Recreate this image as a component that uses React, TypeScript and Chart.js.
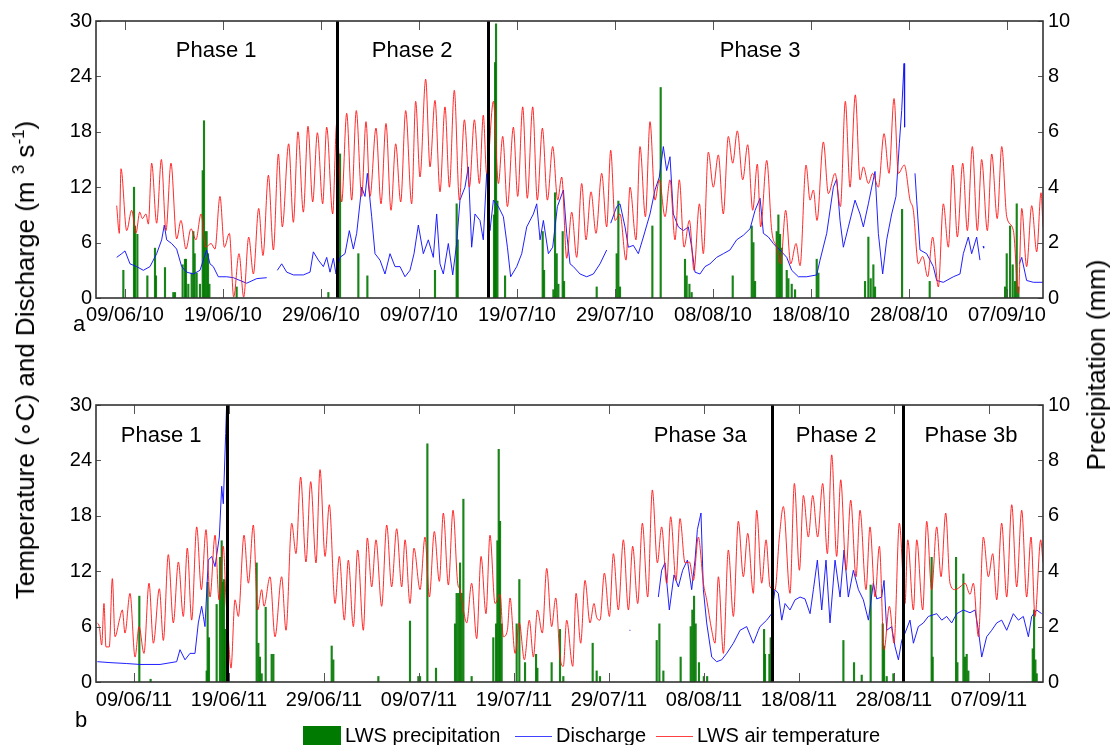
import React, { useEffect, useRef } from "react";
import { Chart, registerables } from "chart.js";

Chart.register(...registerables);

const FONT = '"Liberation Sans", Arial, Helvetica, sans-serif';

// x values are days after 09/06 of each year
const tickDays = [0, 10, 20, 30, 40, 50, 60, 70, 80, 90];
const tickLabels2010 = ["09/06/10", "19/06/10", "29/06/10", "09/07/10", "19/07/10", "29/07/10", "08/08/10", "18/08/10", "28/08/10", "07/09/10"];
const tickLabels2011 = ["09/06/11", "19/06/11", "29/06/11", "09/07/11", "19/07/11", "29/07/11", "08/08/11", "18/08/11", "28/08/11", "07/09/11"];
const tempTicks = [0, 6, 12, 18, 24, 30];
const precipTicks = [0, 2, 4, 6, 8, 10];

const xRange2010 = [-2.96, 93.67];
const xRange2011 = [-4.0, 95.68];

const airTemp2010: [number, number | null][] = [
  [-0.85, 10.0], [-0.58, 7.0], [-0.41, 14.0], [0.17, 7.3], [0.68, 9.5], [1.12, 7.0], [1.5, 9.3], [1.77, 8.6], [2.14, 9.1], [2.38, 8.0],
  [2.72, 14.6], [3.23, 8.1], [3.71, 15.0], [4.18, 7.3], [4.69, 14.6], [5.27, 6.4], [5.71, 8.4], [6.22, 5.3], [6.73, 7.5], [7.24, 6.3],
  [7.76, 9.1], [8.23, 5.5], [8.78, 5.9], [9.18, 5.3], [9.69, 11.0], [10.14, 5.5], [10.65, 7.0], [11.09, 0.1], [11.63, 4.8], [12.11, 0.1],
  [12.62, 6.6], [13.1, 2.6], [13.64, 9.7], [14.08, 4.6], [14.63, 13.3], [15.14, 5.2], [15.65, 15.6], [16.05, 7.7], [16.7, 16.7], [17.18, 8.2],
  [17.65, 18.0], [18.2, 9.3], [18.67, 18.6], [19.15, 10.4], [19.63, 17.9], [20.17, 10.2], [20.58, 18.5], [21.19, 9.1], [21.6, 18.9], [22.11, 10.4],
  [22.62, 20.0], [23.13, 10.6], [23.6, 20.3], [24.15, 11.0], [24.59, 19.1], [25.0, 11.0], [25.61, 18.4], [26.12, 10.2], [26.63, 18.9], [27.14, 9.5],
  [27.62, 16.7], [28.13, 10.4], [28.64, 20.3], [29.25, 10.2], [29.66, 21.3], [30.1, 13.1], [30.68, 23.7], [31.12, 14.2], [31.63, 21.4], [32.14, 11.5],
  [32.65, 20.7], [33.1, 12.0], [33.6, 22.5], [34.12, 10.6], [34.63, 19.3], [35.14, 12.0], [35.65, 19.3], [36.16, 12.4], [36.56, 19.8], [36.9, 13.5],
  [37.59, 21.3], [38.1, 12.4], [38.54, 17.5], [39.02, 9.9], [39.63, 18.5], [40.07, 11.0], [40.58, 20.7], [41.05, 10.8], [41.6, 20.7], [42.07, 10.6],
  [42.59, 18.4], [43.1, 10.6], [43.64, 16.4], [44.15, 10.6], [44.56, 13.1], [45.07, 4.3], [45.58, 9.3], [46.09, 4.4], [46.6, 12.4], [47.04, 6.3],
  [47.55, 11.5], [48.06, 7.0], [48.64, 13.5], [49.15, 7.7], [49.56, 16.0], [50.0, 8.4], [50.51, 9.1], [51.12, 4.1], [51.53, 12.0], [52.14, 6.3],
  [52.55, 16.4], [53.1, 8.8], [53.57, 19.1], [54.08, 10.6], [54.52, 12.8], [55.1, 8.8], [55.61, 12.8], [56.12, 6.3], [56.56, 12.8], [57.04, 5.5],
  [57.59, 8.4], [58.06, 3.0], [58.61, 10.2], [59.01, 4.8], [59.52, 15.8], [60.03, 12.0], [60.54, 15.5], [61.05, 9.1], [61.56, 17.5], [62.01, 14.6],
  [62.48, 18.1], [63.03, 12.8], [63.54, 16.6], [64.05, 9.5], [64.52, 14.5], [64.86, 7.7], [65.48, 14.9], [65.99, 7.3], [66.5, 5.5], [66.9, 3.7],
  [67.41, 9.5], [67.93, 3.7], [68.47, 5.9], [68.88, 3.5], [69.49, 14.4], [69.9, 10.6], [70.24, 11.7], [70.61, 8.4], [71.26, 16.9], [71.77, 11.3],
  [72.45, 13.5], [73.0, 9.9], [73.5, 21.3], [73.98, 12.0], [74.52, 22.0], [75.0, 12.8], [75.34, 14.2], [75.85, 12.4], [76.29, 13.5], [76.87, 12.0],
  [77.45, 17.8], [77.96, 13.5], [78.47, 21.6], [78.91, 13.5], [79.52, 14.4], [80.1, 10.6], [80.44, 9.5], [80.95, 3.7], [81.4, 4.5], [81.9, 2.3],
  [82.41, 6.6], [82.99, 1.2], [83.5, 10.2], [84.01, 5.5], [84.46, 14.4], [84.93, 6.6], [85.48, 14.6], [85.95, 7.3], [86.46, 16.4], [86.97, 7.3],
  [87.41, 15.0], [87.99, 7.3], [88.44, 15.6], [89.0, 8.6], [89.46, 16.4], [89.97, 8.8], [90.65, 7.3], [91.16, 0.5], [91.5, 9.7], [92.0, 3.4],
  [92.52, 10.0], [93.03, 5.0], [93.47, 11.4], [93.67, 7.7],
];

const discharge2010: [number, number | null][] = [
  [-0.85, 4.4], [-0.34, 4.8], [0, 5.1], [0.51, 3.7], [1.19, 3.4], [1.87, 3.0], [2.55, 3.4], [3.23, 4.8], [3.74, 6.3], [4.01, 7.9],
  [4.25, 6.3], [4.76, 5.9], [5.27, 5.3], [5.78, 3.4], [6.29, 2.8], [6.97, 2.6], [7.65, 3.0], [8.33, 5.2], [8.67, 3.7], [9.01, 3.4],
  [9.52, 2.3], [10.37, 2.3], [11.05, 2.2], [11.73, 1.9], [12.41, 1.6], [13.44, 2.1], [14.46, 2.2], [15.0, null],
  [15.54, 3.0], [15.99, 3.7], [16.5, 2.8], [17.18, 2.5], [18.2, 2.5], [18.88, 2.8], [19.22, 5.0], [19.73, 4.1], [20.24, 3.4], [20.58, 4.4],
  [20.92, 2.8], [21.26, 4.3], [21.53, 2.6], [21.94, 4.4], [22.45, 4.8], [22.89, 7.3], [23.3, 5.3], [23.64, 7.0], [24.15, 12.0], [24.49, 11.0],
  [24.73, 13.5], [25.17, 8.8], [25.51, 4.8], [26.02, 4.1], [26.53, 2.6], [27.04, 4.8], [27.55, 3.4], [28.06, 3.4], [28.57, 2.3], [29.08, 3.0],
  [29.49, 4.8], [29.93, 7.9], [30.44, 4.8], [30.95, 6.3], [31.46, 4.4], [31.8, 9.1], [32.14, 3.7], [32.48, 2.6], [32.99, 5.9], [33.44, 2.5],
  [33.84, 5.9], [34.18, 10.6], [34.69, 12.0], [35.03, 14.2], [35.37, 5.5], [35.71, 9.1], [36.22, 8.4], [36.56, 6.3], [36.9, 13.5], [37.24, 7.3],
  [37.59, 10.6], [38.1, 9.9], [38.61, 8.8], [39.02, 5.5], [39.35, 2.3], [39.97, 3.4], [40.48, 4.8], [40.99, 7.7], [41.67, 9.1], [42.01, 10.2],
  [42.35, 6.3], [42.69, 8.4], [43.2, 4.8], [43.64, 5.5], [44.12, 9.9], [44.73, 11.7], [45.07, 7.0], [45.41, 3.7], [45.75, 3.4], [46.43, 2.6],
  [47.11, 2.3], [47.79, 2.6], [48.47, 3.7], [49.15, 5.2], [49.35, null],
  [49.56, 8.1], [50.17, 9.9], [50.51, 10.2], [51.02, 7.7], [51.36, 5.5], [51.87, 5.7], [52.38, 4.8], [52.89, 6.6], [53.57, 9.1], [54.08, 11.7],
  [54.52, 13.1], [54.93, 16.4], [55.27, 13.8], [55.61, 15.3], [55.95, 9.1], [56.46, 7.7], [56.97, 7.3], [57.48, 7.7], [57.82, 5.5], [58.16, 2.8],
  [58.67, 2.6], [59.18, 3.4], [59.69, 3.7], [60.37, 4.4], [61.05, 4.8], [61.73, 5.2], [62.41, 6.3], [63.1, 6.8], [63.78, 7.5], [64.29, 9.5],
  [64.8, 10.8], [65.14, 7.0], [65.65, 6.6], [66.16, 5.9], [66.5, 5.5], [66.84, 5.2], [67.52, 4.4], [68.03, 3.0], [68.71, 2.3], [69.56, 2.3],
  [70.58, 2.5], [70.92, 4.1], [71.6, 7.0], [72.28, 12.0], [72.62, 12.9], [72.96, 8.4], [73.3, 5.5], [73.81, 7.7], [74.49, 10.6], [75.0, 9.1],
  [75.34, 7.7], [75.85, 10.2], [76.19, 12.0], [76.53, 13.7], [76.87, 7.0], [77.31, 2.6], [77.72, 6.3], [78.23, 9.1], [78.67, 11.0], [79.01, 16.7],
  [79.25, 20.3], [79.49, 25.4], [79.55, 18.5], [80.0, null],
  [80.61, 13.5], [80.78, 10.6], [81.12, 5.2], [81.8, 4.8], [82.48, 3.4], [82.82, 1.9], [83.5, 1.7], [84.52, 2.3], [85.2, 2.6], [85.54, 4.8],
  [86.05, 6.6], [86.39, 4.8], [86.9, 6.6], [87.24, 4.1], [87.4, null], [87.55, 5.6], [87.62, 5.4], [87.8, null],
  [91.25, 3.7], [91.5, 4.4], [92.0, 1.9], [92.69, 1.7], [93.67, 1.7],
];

const precip2010: [number, number][] = [
  [-0.17, 1.0], [0.92, 4.0], [1.02, 2.6], [1.26, 2.3], [2.28, 0.8], [3.06, 1.8], [3.16, 0.8], [4.08, 1.1], [4.93, 0.2], [5.1, 0.2],
  [5.88, 1.2], [6.12, 1.4], [6.22, 1.4], [6.46, 0.5], [6.8, 0.9], [6.97, 2.4], [7.11, 1.6], [7.31, 0.9], [7.65, 0.5], [7.93, 4.6],
  [8.06, 6.4], [8.2, 2.4], [8.33, 2.4], [8.47, 1.6], [8.61, 0.5], [11.39, 0.4], [20.75, 0.2], [21.94, 5.2], [23.81, 1.6], [24.73, 0.8],
  [31.63, 1.0], [33.84, 3.4], [33.95, 2.1], [37.65, 3.0], [37.76, 8.5], [37.86, 9.9], [38.0, 3.5], [38.78, 0.8], [42.62, 2.4], [42.76, 1.0],
  [43.71, 0.3], [43.88, 3.8], [44.05, 1.6], [44.22, 0.5], [44.66, 2.4], [44.8, 0.6], [48.13, 0.4], [50.17, 1.6], [50.34, 3.5], [50.51, 0.4],
  [53.81, 2.6], [54.66, 7.6], [57.14, 1.4], [57.31, 0.8], [57.59, 0.5], [57.82, 0.2], [62.01, 0.8], [63.95, 2.6], [64.12, 2.0], [64.29, 0.6],
  [66.5, 2.4], [66.67, 3.0], [66.84, 2.3], [67.01, 1.8], [67.52, 1.0], [67.69, 0.7], [68.03, 0.5], [68.37, 0.3], [70.58, 1.4], [70.75, 0.9],
  [75.51, 0.6], [75.85, 2.2], [76.09, 0.7], [76.36, 1.2], [76.53, 0.4], [79.29, 3.2], [82.11, 0.6], [89.8, 0.4], [89.97, 1.6], [90.31, 2.6],
  [90.58, 1.2], [90.82, 0.6], [90.99, 3.4], [91.16, 0.4],
];

const airTemp2011: [number, number | null][] = [
  [-3.86, 6.4], [-3.65, 6.0], [-3.4, 4.0], [-3.16, 8.5], [-2.95, 3.8], [-2.6, 3.8], [-2.28, 11.2], [-2.0, 4.9], [-1.54, 6.7], [-1.23, 7.8],
  [-0.95, 5.3], [-0.42, 9.6], [0.11, 2.7], [0.53, 6.0], [1.05, 3.1], [1.58, 10.7], [2.04, 4.2], [2.67, 10.1], [3.09, 4.5], [3.61, 13.8],
  [4.14, 6.4], [4.67, 13.0], [5.19, 7.1], [5.61, 14.5], [6.07, 6.7], [6.6, 16.8], [7.09, 10.0], [7.58, 16.5], [8.0, 9.2], [8.53, 15.9],
  [8.95, 8.9], [9.4, 14.7], [9.68, 9.0], [9.93, 4.9], [10.21, 1.5], [10.63, 8.9], [10.98, 7.1], [11.58, 15.9], [12.04, 10.7], [12.56, 17.0],
  [13.02, 7.8], [13.44, 10.0], [13.68, 8.2], [14.32, 11.4], [14.84, 4.9], [15.54, 11.4], [16.0, 5.6], [16.6, 17.2], [17.05, 13.9], [17.54, 22.2],
  [18.1, 13.0], [18.6, 21.7], [19.16, 12.9], [19.58, 23.0], [20.11, 13.6], [20.56, 19.2], [21.16, 8.5], [21.61, 13.6], [22.14, 6.7], [22.56, 13.2],
  [23.09, 6.0], [23.54, 14.3], [24.14, 5.6], [24.56, 15.6], [25.02, 10.3], [25.47, 15.4], [26.07, 8.2], [26.6, 17.0], [27.12, 10.3], [27.65, 16.6],
  [28.18, 10.3], [28.53, 15.4], [29.05, 8.5], [29.47, 14.5], [30.11, 10.0], [30.63, 15.7], [31.09, 9.2], [31.61, 16.3], [32.14, 10.9], [32.56, 18.3],
  [33.09, 10.5], [33.58, 18.6], [34.07, 10.7], [34.32, 10.0], [34.67, 7.8], [35.02, 6.4], [35.54, 10.7], [36.07, 4.7], [36.53, 13.6], [37.05, 7.4],
  [37.47, 15.9], [38.0, 8.5], [38.53, 9.5], [38.88, 4.9], [39.3, 5.6], [39.58, 9.1], [40.11, 3.1], [40.56, 6.4], [41.09, 2.4], [41.61, 6.7],
  [42.04, 2.7], [42.46, 7.8], [42.98, 5.3], [43.44, 12.3], [43.96, 6.0], [44.39, 9.1], [44.84, 2.7], [45.19, 1.7], [45.54, 6.7], [46.18, 1.7],
  [46.53, 9.6], [47.02, 4.2], [47.47, 11.0], [48.0, 6.4], [48.42, 8.5], [48.7, 7.0], [49.05, 6.7], [49.51, 11.8], [50.04, 7.1], [50.46, 13.9],
  [50.98, 7.8], [51.51, 15.4], [52.04, 7.8], [52.49, 14.7], [53.02, 8.5], [53.51, 17.2], [54.07, 9.2], [54.56, 20.8], [55.09, 12.9], [55.54, 16.8],
  [56.07, 10.7], [56.49, 17.9], [57.05, 11.0], [57.47, 17.7], [58.0, 12.9], [58.46, 13.0], [58.88, 11.0], [59.4, 15.7], [59.93, 10.7], [60.28, 8.9],
  [60.81, 5.6], [61.16, 4.2], [61.51, 11.4], [62.04, 3.1], [62.56, 14.3], [63.09, 7.1], [63.61, 17.4], [64.14, 11.4], [64.6, 16.1], [65.19, 9.6],
  [65.54, 18.6], [66.07, 10.7], [66.53, 15.4], [66.95, 10.3], [67.47, 10.0], [67.93, 15.7], [68.35, 19.0], [69.05, 9.6], [69.51, 21.5], [70.04, 12.1],
  [70.46, 20.2], [70.98, 15.7], [71.44, 20.2], [71.96, 15.7], [72.49, 21.5], [72.98, 13.9], [73.44, 24.6], [73.96, 13.6], [74.39, 21.9], [74.95, 12.1],
  [75.44, 19.7], [76.0, 11.4], [76.42, 18.6], [77.05, 10.0], [77.47, 16.8], [78.0, 9.2], [78.46, 14.7], [78.95, 3.5], [79.51, 8.2], [80.0, 4.2],
  [80.56, 17.2], [81.16, 8.5], [81.44, 15.4], [82.04, 7.8], [82.39, 15.4], [83.02, 7.8], [83.44, 17.4], [83.96, 10.0], [84.49, 16.8], [84.95, 11.4],
  [85.44, 18.3], [85.89, 10.7], [86.42, 10.0], [86.95, 10.3], [87.47, 10.7], [88.0, 9.5], [88.35, 10.7], [88.88, 4.9], [89.4, 15.7], [89.93, 11.4],
  [90.39, 13.9], [90.81, 8.9], [91.33, 17.2], [91.86, 9.2], [92.39, 19.2], [92.91, 10.3], [93.44, 18.6], [93.96, 9.2], [94.42, 15.7], [94.84, 7.1],
  [95.44, 15.4], [95.68, 12.9],
];

const discharge2011: [number, number | null][] = [
  [-3.86, 2.2], [-2.53, 2.1], [-0.77, 2.0], [0.63, 1.9], [2.74, 1.9], [4.49, 2.2], [4.84, 3.5], [5.37, 2.4], [5.89, 3.1], [6.42, 3.1],
  [6.77, 6.4], [7.12, 8.2], [7.3, 7.1], [7.47, 6.0], [7.82, 13.2], [8.18, 13.6], [8.53, 12.5], [8.98, 15.7], [9.23, 21.2], [9.4, 19.3],
  [9.65, 26.9], [9.78, 31.0], [10.0, null],
  [52.15, 5.6], [52.25, 5.6], [52.4, null],
  [55.19, 9.2], [55.54, 12.1], [55.89, 12.9], [56.35, 7.8], [56.84, 11.6], [57.3, 10.3], [57.75, 12.1], [58.25, 13.2], [58.7, 10.0], [59.05, 13.2],
  [59.3, 16.5], [59.68, 18.3], [59.93, 10.0], [60.28, 6.4], [60.81, 2.7], [61.33, 2.2], [61.86, 2.4], [62.39, 3.1], [63.09, 4.2], [63.79, 5.6],
  [64.49, 6.0], [65.19, 4.2], [65.72, 5.6], [65.89, 6.0], [66.6, 6.7], [67.12, 7.4], [67.47, 10.0], [67.82, 9.6], [68.18, 6.7], [68.53, 8.5],
  [69.05, 7.8], [69.58, 8.9], [70.11, 9.2], [70.63, 9.0], [71.16, 7.4], [71.51, 10.0], [71.93, 13.2], [72.39, 7.8], [72.84, 13.2], [73.26, 6.4],
  [73.79, 13.2], [74.32, 9.2], [74.74, 14.3], [75.19, 9.2], [75.72, 12.1], [76.25, 10.0], [76.77, 8.9], [77.3, 6.7], [77.82, 10.7], [78.18, 9.0],
  [78.7, 9.2], [78.95, 11.0], [79.23, 5.6], [79.75, 6.0], [80.11, 3.8], [80.46, 2.4], [80.81, 4.5], [81.16, 5.3], [81.68, 6.7], [82.04, 4.2],
  [82.56, 6.0], [83.09, 6.4], [83.61, 7.1], [84.49, 7.4], [85.02, 6.7], [85.54, 7.1], [86.07, 6.4], [86.6, 7.4], [87.3, 7.8], [88.0, 7.5],
  [88.53, 7.8], [88.88, 5.6], [89.23, 2.7], [89.75, 4.9], [90.28, 5.6], [90.81, 6.4], [91.33, 6.7], [91.86, 5.6], [92.56, 7.4], [93.09, 6.7],
  [93.61, 7.1], [94.14, 4.9], [94.49, 7.1], [95.02, 7.8], [95.54, 7.4],
];

const precip2011: [number, number][] = [
  [0.56, 3.1], [1.75, 0.1], [7.65, 0.4], [7.75, 3.6], [7.89, 1.6], [8.7, 2.8], [9.05, 4.5], [9.23, 5.1], [9.33, 3.6], [9.47, 3.7],
  [9.58, 1.9], [12.91, 4.3], [13.09, 1.4], [13.26, 0.9], [13.44, 0.3], [13.86, 2.7], [14.49, 1.0], [14.67, 1.0], [20.81, 1.3], [20.98, 0.8],
  [25.72, 0.2], [29.05, 2.2], [29.93, 0.2], [30.11, 0.2], [30.88, 8.6], [31.79, 0.5], [33.79, 2.1], [33.96, 3.2], [34.14, 3.2], [34.32, 4.3],
  [34.49, 3.2], [34.67, 6.6], [35.54, 0.2], [37.82, 1.6], [38.11, 2.1], [38.25, 5.1], [38.39, 8.4], [38.53, 5.8], [38.7, 2.1], [40.28, 2.1],
  [40.56, 3.7], [41.16, 0.7], [42.32, 1.0], [42.46, 0.5], [43.96, 0.7], [44.84, 1.9], [45.19, 0.2], [48.28, 1.4], [48.7, 0.4], [49.05, 0.2],
  [55.02, 1.5], [55.3, 2.1], [55.72, 0.4], [57.54, 0.9], [58.6, 2.0], [58.77, 2.6], [58.95, 3.1], [59.12, 2.1], [59.47, 0.7], [59.98, 0.2],
  [60.33, 0.2], [66.32, 1.9], [66.42, 1.0], [66.88, 1.0], [67.02, 1.6], [74.67, 1.5], [75.79, 0.7], [76.6, 0.25], [77.54, 3.5], [78.81, 2.1],
  [78.95, 1.3], [79.23, 0.2], [79.93, 0.3], [83.96, 4.5], [84.07, 0.9], [86.53, 4.5], [86.67, 0.7], [87.3, 3.9], [87.47, 0.9], [87.65, 1.0],
  [87.82, 0.4], [94.6, 1.2], [94.74, 2.6], [94.88, 0.8], [95.02, 0.3],
];

const phaseBounds2010 = [21.63, 37.04];
const phaseBounds2011 = [9.79, 67.16, 80.95];
const phaseNames2010 = ["Phase 1", "Phase 2", "Phase 3"];
const phaseLabelDays2010 = [9.3, 29.3, 64.8];
const phaseNames2011 = ["Phase 1", "Phase 3a", "Phase 2", "Phase 3b"];
const phaseLabelDays2011 = [2.86, 59.6, 73.9, 88.1];

const toXY = (arr: [number, number | null][]) => arr.map(([x, y]) => ({ x, y }));

const decorPlugin = {
  id: "decor",
  afterDraw(chart: any, _args: any, opts: any) {
    const { ctx, chartArea: a, scales } = chart;
    const xs = scales.x, ys = scales.y, y2 = scales.y2;
    ctx.save();
    // phase boundaries
    ctx.strokeStyle = "#000";
    ctx.lineWidth = 3;
    for (const d of opts.bounds) {
      const px = Math.round(xs.getPixelForValue(d)) + 0.5;
      ctx.beginPath();
      ctx.moveTo(px, a.top);
      ctx.lineTo(px, a.bottom);
      ctx.stroke();
    }
    // phase labels
    ctx.fillStyle = "#000";
    ctx.font = `22px ${FONT}`;
    ctx.textAlign = "center";
    ctx.textBaseline = "middle";
    opts.names.forEach((n: string, i: number) => {
      ctx.fillText(n, xs.getPixelForValue(opts.labelDays[i]), ys.getPixelForValue(opts.labelValue));
    });
    // inward ticks
    ctx.strokeStyle = "#555";
    ctx.lineWidth = 1;
    ctx.beginPath();
    for (const t of tickDays) {
      const px = Math.round(xs.getPixelForValue(t)) + 0.5;
      ctx.moveTo(px, a.bottom);
      ctx.lineTo(px, a.bottom - 9);
      ctx.moveTo(px, a.top);
      ctx.lineTo(px, a.top + 9);
    }
    for (const t of tempTicks) {
      const py = Math.round(ys.getPixelForValue(t)) + 0.5;
      ctx.moveTo(a.left, py);
      ctx.lineTo(a.left + 5, py);
    }
    for (const t of precipTicks) {
      const py = Math.round(y2.getPixelForValue(t)) + 0.5;
      ctx.moveTo(a.right, py);
      ctx.lineTo(a.right - 5, py);
    }
    ctx.stroke();
    // frame
    ctx.strokeStyle = "#333";
    ctx.lineWidth = 1.6;
    ctx.strokeRect(a.left, a.top, a.right - a.left, a.bottom - a.top);
    ctx.restore();
  },
};

function makeConfig(p: {
  temp: [number, number | null][];
  discharge: [number, number | null][];
  precip: [number, number][];
  labels: string[];
  range: number[];
  bounds: number[];
  names: string[];
  labelDays: number[];
  labelValue: number;
  top: number;
  axisH: number;
  xPad: number;
}) {
  const tickFont = { family: FONT, size: 20 };
  return {
    type: "line" as const,
    data: {
      datasets: [
        {
          type: "line" as const,
          label: "LWS air temperature",
          data: toXY(p.temp),
          borderColor: "rgba(255,20,20,0.9)",
          borderWidth: 1,
          pointRadius: 0,
          cubicInterpolationMode: "monotone" as const,
          spanGaps: false,
          yAxisID: "y",
          order: 0,
        },
        {
          type: "line" as const,
          label: "Discharge",
          data: toXY(p.discharge),
          borderColor: "rgba(20,20,255,0.95)",
          borderWidth: 1,
          pointRadius: 0,
          tension: 0,
          spanGaps: false,
          yAxisID: "y",
          order: 1,
        },
        {
          type: "bar" as const,
          label: "LWS precipitation",
          data: toXY(p.precip as any),
          backgroundColor: "rgba(0,120,0,0.9)",
          borderWidth: 0,
          barThickness: 1.5,
          yAxisID: "y2",
          order: 2,
        },
      ],
    },
    options: {
      responsive: false,
      animation: false as const,
      events: [],
      layout: { padding: { top: p.top, left: 0, right: 0, bottom: 0 } },
      plugins: {
        legend: { display: false },
        tooltip: { enabled: false },
        decor: {
          bounds: p.bounds,
          names: p.names,
          labelDays: p.labelDays,
          labelValue: p.labelValue,
        },
      },
      scales: {
        x: {
          type: "linear" as const,
          min: p.range[0],
          max: p.range[1],
          offset: false,
          grid: { display: false, drawTicks: false },
          border: { display: false },
          afterBuildTicks: (s: any) => {
            s.ticks = tickDays.map((v) => ({ value: v }));
          },
          afterFit: (s: any) => {
            s.height = p.axisH;
          },
          ticks: {
            autoSkip: false,
            maxRotation: 0,
            padding: p.xPad,
            color: "#000",
            font: tickFont,
            callback: (v: any) => {
              const i = tickDays.indexOf(Number(v));
              return i >= 0 ? p.labels[i] : "";
            },
          },
        },
        y: {
          type: "linear" as const,
          position: "left" as const,
          min: 0,
          max: 30,
          grid: { display: false, drawTicks: false },
          border: { display: false },
          afterBuildTicks: (s: any) => {
            s.ticks = tempTicks.map((v) => ({ value: v }));
          },
          afterFit: (s: any) => {
            s.width = 96;
          },
          ticks: { padding: 4, color: "#000", font: tickFont },
        },
        y2: {
          type: "linear" as const,
          position: "right" as const,
          min: 0,
          max: 10,
          grid: { display: false, drawTicks: false },
          border: { display: false },
          afterBuildTicks: (s: any) => {
            s.ticks = precipTicks.map((v) => ({ value: v }));
          },
          afterFit: (s: any) => {
            s.width = 67;
          },
          ticks: { padding: 5, color: "#000", font: tickFont },
        },
      },
    },
    plugins: [decorPlugin],
  };
}

function Panel(props: { cfg: any; top: number }) {
  const ref = useRef<HTMLCanvasElement | null>(null);
  useEffect(() => {
    if (!ref.current) return;
    const chart = new Chart(ref.current, props.cfg);
    return () => chart.destroy();
  }, []);
  return (
    <canvas
      ref={ref}
      width={1110}
      height={340}
      style={{ position: "absolute", left: 0, top: props.top, width: 1110, height: 340 }}
    />
  );
}

export default function App() {
  const cfgA = makeConfig({
    temp: airTemp2010,
    discharge: discharge2010,
    precip: precip2010,
    labels: tickLabels2010,
    range: xRange2010,
    bounds: phaseBounds2010,
    names: phaseNames2010,
    labelDays: phaseLabelDays2010,
    labelValue: 26.75,
    top: 21,
    axisH: 42,
    xPad: 5,
  });
  const cfgB = makeConfig({
    temp: airTemp2011,
    discharge: discharge2011,
    precip: precip2011,
    labels: tickLabels2011,
    range: xRange2011,
    bounds: phaseBounds2011,
    names: phaseNames2011,
    labelDays: phaseLabelDays2011,
    labelValue: 26.6,
    top: 20,
    axisH: 43,
    xPad: 6,
  });
  const text: React.CSSProperties = { position: "absolute", fontFamily: FONT, color: "#000", whiteSpace: "nowrap" };
  return (
    <div style={{ position: "absolute", left: 0, top: 0, width: 1110, height: 745, overflow: "hidden", background: "#fff" }}>
      <Panel cfg={cfgA} top={0} />
      <Panel cfg={cfgB} top={385} />
      <div
        style={{
          ...text,
          left: 25,
          top: 360,
          fontSize: 26,
          lineHeight: "30px",
          transform: "translate(-50%, -50%) rotate(-90deg)",
        }}
      >
        Temperature (∘C) and Discharge (m <sup style={{ fontSize: 17, verticalAlign: 10, lineHeight: 0 }}>3</sup> s<sup style={{ fontSize: 17, verticalAlign: 10, lineHeight: 0 }}>-1</sup>)
      </div>
      <div
        style={{
          ...text,
          left: 1096,
          top: 365,
          fontSize: 26,
          lineHeight: "30px",
          transform: "translate(-50%, -50%) rotate(-90deg)",
        }}
      >
        Precipitation (mm)
      </div>
      <div style={{ ...text, left: 73, top: 312, fontSize: 22, lineHeight: "24px" }}>a</div>
      <div style={{ ...text, left: 75, top: 708, fontSize: 22, lineHeight: "24px" }}>b</div>
      <div style={{ position: "absolute", left: 303, top: 726, width: 38, height: 26, background: "#007a00" }} />
      <div style={{ ...text, left: 345, top: 725, fontSize: 20, lineHeight: "20px" }}>LWS precipitation</div>
      <div style={{ position: "absolute", left: 515, top: 736, width: 37, height: 1, background: "#4040ff" }} />
      <div style={{ ...text, left: 556, top: 725, fontSize: 20, lineHeight: "20px" }}>Discharge</div>
      <div style={{ position: "absolute", left: 656, top: 736, width: 37, height: 1, background: "#ff4040" }} />
      <div style={{ ...text, left: 697, top: 725, fontSize: 20, lineHeight: "20px" }}>LWS air temperature</div>
    </div>
  );
}
